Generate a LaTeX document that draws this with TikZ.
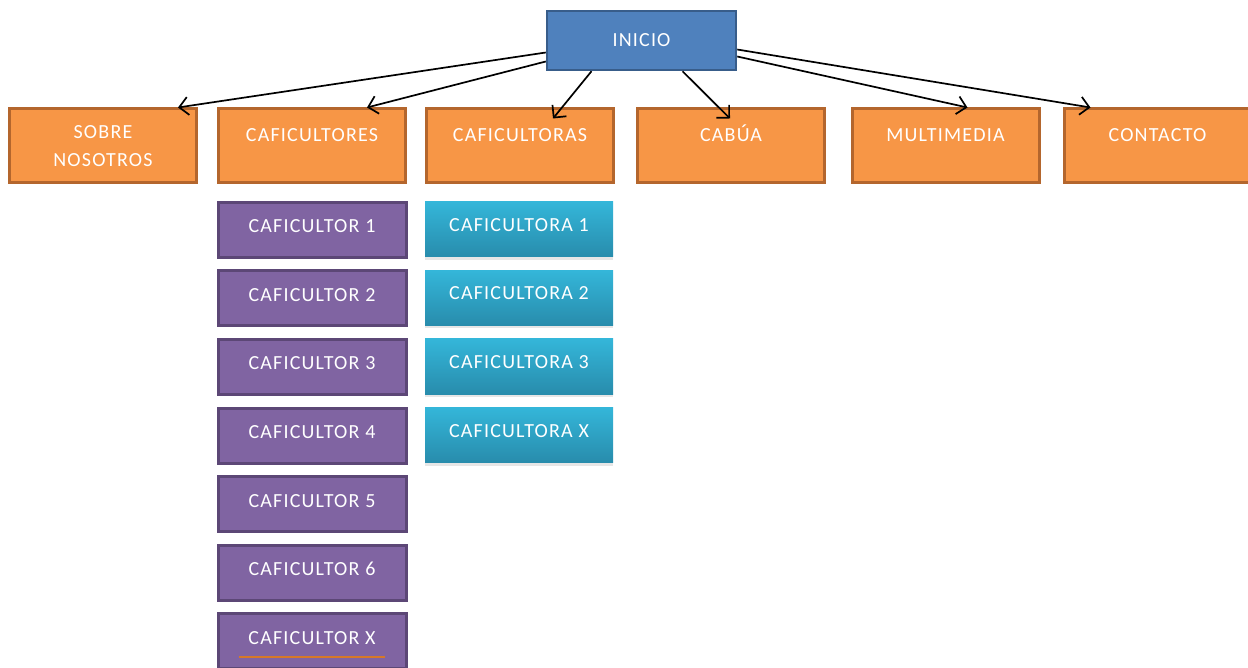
\documentclass[tikz,border=0pt]{standalone}
\usepackage{fontspec}
\setmainfont{Carlito}[LetterSpace=6]
\usepackage{tikz}
\usetikzlibrary{arrows.meta,shadows}

\definecolor{inicioblue}{RGB}{79,129,189}
\definecolor{inicioline}{RGB}{56,93,138}
\definecolor{secorange}{RGB}{247,150,70}
\definecolor{secline}{RGB}{180,102,45}
\definecolor{cafpurple}{RGB}{128,100,162}
\definecolor{cafline}{RGB}{92,71,118}
\definecolor{cyantop}{RGB}{52,182,217}
\definecolor{cyanbot}{RGB}{40,140,172}
\definecolor{markline}{RGB}{214,120,40}

\begin{document}
\begin{tikzpicture}[x=1pt,y=-1pt,
  font=\fontsize{20}{28}\selectfont,
  inicio/.style={draw=inicioline,line width=2.5pt,fill=inicioblue,text=white,
    minimum width=189pt,minimum height=59pt},
  seccion/.style={draw=secline,line width=3pt,fill=secorange,text=white,
    minimum width=187pt,minimum height=74pt,text height=13pt,text depth=22pt},
  caficultor/.style={draw=cafline,line width=3pt,fill=cafpurple,text=white,
    minimum width=188pt,minimum height=55pt,text height=14pt,text depth=8pt},
  caficultora/.style={top color=cyantop,bottom color=cyanbot,text=white,
    minimum width=188pt,minimum height=55pt,text height=14pt,text depth=10pt,
    drop shadow={opacity=0.2,shadow xshift=0pt,shadow yshift=-3pt}},
  enlace/.style={-{Straight Barb[length=9pt,width=18pt]},line width=1.7pt}]
  \useasboundingbox (0,0) rectangle (1248,668);

  \node [inicio] (inicio) at (641.5,40.5) {INICIO};

  \node [seccion,text height=,text depth=,align=center] (sobre) at (103,146) {SOBRE\\NOSOTROS};
  \node [seccion] (cafres) at (312,146) {CAFICULTORES};
  \node [seccion] (cafras) at (520,146) {CAFICULTORAS};
  \node [seccion] (cabua) at (731,146) {CABÚA};
  \node [seccion] (multi) at (945.5,146) {MULTIMEDIA};
  \node [seccion] (contacto) at (1157.5,146) {CONTACTO};

  \draw [enlace] ([yshift=-12pt]inicio.west) -- ([xshift=-20pt]sobre.north east);
  \draw [enlace] ([yshift=-21pt]inicio.west) -- ([xshift=-40pt]cafres.north east);
  \draw [enlace] ([xshift=-50pt]inicio.south) -- ([xshift=33pt,yshift=-11pt]cafras.north);
  \draw [enlace] ([xshift=41pt]inicio.south) -- ([xshift=-1pt,yshift=-11pt]cabua.north);
  \draw [enlace] ([yshift=-16pt]inicio.east) -- ([xshift=22pt]multi.north);
  \draw [enlace] ([yshift=-9pt]inicio.east) -- ([xshift=-67pt]contacto.north);

  % caficultores
  \foreach \lab [count=\i] in {1,2,3,4,5,6,X}
    \node [caficultor] (cafo-\lab) at (312,161.5+68.5*\i) {CAFICULTOR \lab};
  \draw [markline,line width=2pt] ([xshift=-73pt,yshift=-16pt]cafo-X.center)
    -- ([xshift=73pt,yshift=-16pt]cafo-X.center);

  % caficultoras
  \foreach \lab [count=\i] in {1,2,3,X}
    \node [caficultora] (cafa-\lab) at (519,161+68.5*\i) {CAFICULTORA \lab};
\end{tikzpicture}
\end{document}
